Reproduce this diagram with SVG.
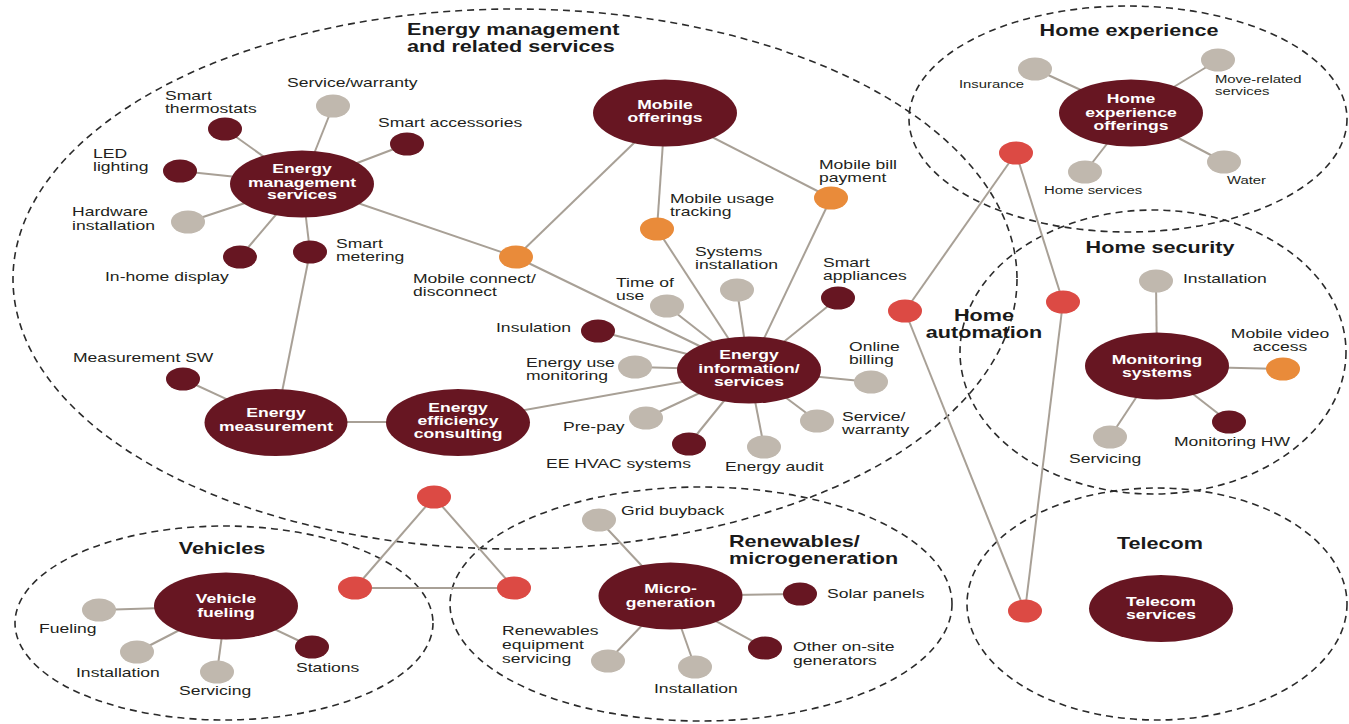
<svg xmlns="http://www.w3.org/2000/svg" width="1349" height="724" viewBox="0 0 1349 724">
<style>
.area{fill:none;stroke:#2b2b2b;stroke-width:1.6;stroke-dasharray:7 5}
.con line{stroke:#a8a096;stroke-width:2}
.main{fill:#671622}
.dk{fill:#671622}
.gy{fill:#c0b8ae}
.or{fill:#e98b3a}
.rd{fill:#dc4a44}
.t{font-family:"Liberation Sans",Arial,sans-serif;font-size:13px;fill:#231f20}
.ts{font-family:"Liberation Sans",Arial,sans-serif;font-size:11px;fill:#231f20}
.w{font-family:"Liberation Sans",Arial,sans-serif;font-size:13px;font-weight:bold;fill:#ffffff;text-anchor:middle}
.h{font-family:"Liberation Sans",Arial,sans-serif;font-size:16px;font-weight:bold;fill:#1a1a1a}
.c{text-anchor:middle}
</style>

<g id="areas">
<ellipse class="area" cx="515" cy="279" rx="502" ry="270"/>
<ellipse class="area" cx="1128" cy="119" rx="219" ry="113"/>
<ellipse class="area" cx="1153" cy="352" rx="193" ry="142"/>
<ellipse class="area" cx="1157" cy="604" rx="190" ry="116"/>
<ellipse class="area" cx="224" cy="623" rx="209" ry="97"/>
<ellipse class="area" cx="701" cy="604" rx="251" ry="117"/>
</g>

<g id="titles">
<text class="h" transform="matrix(1.35,0,0,1,407,35)"><tspan x="0" y="0">Energy management</tspan><tspan x="0" y="17">and related services</tspan></text>
<text class="h c" transform="matrix(1.35,0,0,1,1129,36)">Home experience</text>
<text class="h c" transform="matrix(1.35,0,0,1,1160,253)">Home security</text>
<text class="h c" transform="matrix(1.35,0,0,1,984,321)"><tspan x="0" y="0">Home</tspan><tspan x="0" y="17">automation</tspan></text>
<text class="h c" transform="matrix(1.35,0,0,1,1160,549)">Telecom</text>
<text class="h c" transform="matrix(1.35,0,0,1,222,554)">Vehicles</text>
<text class="h" transform="matrix(1.35,0,0,1,729,547)"><tspan x="0" y="0">Renewables/</tspan><tspan x="0" y="17">microgeneration</tspan></text>
</g>

<g id="connectors" class="con">
<line x1="302" y1="184" x2="225" y2="129"/>
<line x1="302" y1="184" x2="333" y2="106"/>
<line x1="302" y1="184" x2="407" y2="144"/>
<line x1="302" y1="184" x2="180" y2="171"/>
<line x1="302" y1="184" x2="188" y2="222"/>
<line x1="302" y1="184" x2="240" y2="257"/>
<line x1="302" y1="184" x2="310" y2="252"/>
<line x1="310" y1="252" x2="276" y2="422"/>
<line x1="302" y1="184" x2="516" y2="257"/>
<line x1="516" y1="257" x2="749" y2="370"/>
<line x1="665" y1="113" x2="516" y2="257"/>
<line x1="665" y1="113" x2="657" y2="229"/>
<line x1="665" y1="113" x2="831" y2="198"/>
<line x1="657" y1="229" x2="749" y2="370"/>
<line x1="831" y1="198" x2="749" y2="370"/>
<line x1="749" y1="370" x2="737" y2="290"/>
<line x1="749" y1="370" x2="667" y2="306"/>
<line x1="749" y1="370" x2="838" y2="298"/>
<line x1="749" y1="370" x2="598" y2="331"/>
<line x1="749" y1="370" x2="635" y2="367"/>
<line x1="749" y1="370" x2="871" y2="382"/>
<line x1="749" y1="370" x2="646" y2="418"/>
<line x1="749" y1="370" x2="689" y2="444"/>
<line x1="749" y1="370" x2="764" y2="447"/>
<line x1="749" y1="370" x2="817" y2="421"/>
<line x1="749" y1="370" x2="458" y2="422"/>
<line x1="276" y1="422" x2="183" y2="379"/>
<line x1="276" y1="422" x2="458" y2="422"/>
<line x1="434" y1="497" x2="355" y2="588"/>
<line x1="434" y1="497" x2="514" y2="588"/>
<line x1="355" y1="588" x2="514" y2="588"/>
<line x1="1016" y1="153" x2="905" y2="311"/>
<line x1="1016" y1="153" x2="1063" y2="302"/>
<line x1="905" y1="311" x2="1025" y2="611"/>
<line x1="1063" y1="302" x2="1025" y2="611"/>
<line x1="1131" y1="113" x2="1035" y2="69"/>
<line x1="1131" y1="113" x2="1218" y2="60"/>
<line x1="1131" y1="113" x2="1085" y2="172"/>
<line x1="1131" y1="113" x2="1224" y2="162"/>
<line x1="1157" y1="366" x2="1156" y2="281"/>
<line x1="1157" y1="366" x2="1283" y2="369"/>
<line x1="1157" y1="366" x2="1229" y2="422"/>
<line x1="1157" y1="366" x2="1110" y2="437"/>
<line x1="226" y1="606" x2="99" y2="610"/>
<line x1="226" y1="606" x2="137" y2="652"/>
<line x1="226" y1="606" x2="217" y2="672"/>
<line x1="226" y1="606" x2="312" y2="647"/>
<line x1="670" y1="596" x2="599" y2="520"/>
<line x1="670" y1="596" x2="800" y2="594"/>
<line x1="670" y1="596" x2="765" y2="648"/>
<line x1="670" y1="596" x2="695" y2="667"/>
<line x1="670" y1="596" x2="608" y2="661"/>
</g>

<g id="energy-management-services">
<ellipse class="main" cx="302" cy="184" rx="72" ry="33.5"/>
<text class="w" transform="matrix(1.35,0,0,1,302,0)"><tspan x="0" y="173.3">Energy</tspan><tspan x="0" y="186.7">management</tspan><tspan x="0" y="199.5">services</tspan></text>
</g>
<g id="smart-thermostats"><ellipse class="dk" cx="225" cy="129" rx="17" ry="11.5"/><text class="t" transform="matrix(1.35,0,0,1,165,100)"><tspan x="0" y="0">Smart</tspan><tspan x="0" y="13.5">thermostats</tspan></text></g>
<g id="ems-service-warranty"><ellipse class="gy" cx="333" cy="106" rx="17" ry="11.5"/><text class="t" transform="matrix(1.35,0,0,1,287,87)">Service/warranty</text></g>
<g id="smart-accessories"><ellipse class="dk" cx="407" cy="144" rx="17" ry="11.5"/><text class="t" transform="matrix(1.35,0,0,1,378,127)">Smart accessories</text></g>
<g id="led-lighting"><ellipse class="dk" cx="180" cy="171" rx="17" ry="11.5"/><text class="t" transform="matrix(1.35,0,0,1,93,158)"><tspan x="0" y="0">LED</tspan><tspan x="0" y="13.5">lighting</tspan></text></g>
<g id="hardware-installation"><ellipse class="gy" cx="188" cy="222" rx="17" ry="11.5"/><text class="t" transform="matrix(1.35,0,0,1,72,216)"><tspan x="0" y="0">Hardware</tspan><tspan x="0" y="14.5">installation</tspan></text></g>
<g id="in-home-display"><ellipse class="dk" cx="240" cy="257" rx="17" ry="11.5"/><text class="t" transform="matrix(1.35,0,0,1,105,281)">In-home display</text></g>
<g id="smart-metering"><ellipse class="dk" cx="310" cy="252" rx="17" ry="11.5"/><text class="t" transform="matrix(1.35,0,0,1,336,248)"><tspan x="0" y="0">Smart</tspan><tspan x="0" y="13.5">metering</tspan></text></g>

<g id="mobile-offerings">
<ellipse class="main" cx="665" cy="113" rx="72" ry="33.5"/>
<text class="w" transform="matrix(1.35,0,0,1,665,0)"><tspan x="0" y="109">Mobile</tspan><tspan x="0" y="122.3">offerings</tspan></text>
</g>
<g id="mobile-connect"><ellipse class="or" cx="516" cy="257" rx="17" ry="11.5"/><text class="t" transform="matrix(1.35,0,0,1,413,283)"><tspan x="0" y="0">Mobile connect/</tspan><tspan x="0" y="13.5">disconnect</tspan></text></g>
<g id="mobile-usage-tracking"><ellipse class="or" cx="657" cy="229" rx="17" ry="11.5"/><text class="t" transform="matrix(1.35,0,0,1,670,203)"><tspan x="0" y="0">Mobile usage</tspan><tspan x="0" y="13.5">tracking</tspan></text></g>
<g id="mobile-bill-payment"><ellipse class="or" cx="831" cy="198" rx="17" ry="11.5"/><text class="t" transform="matrix(1.35,0,0,1,819,169)"><tspan x="0" y="0">Mobile bill</tspan><tspan x="0" y="13.5">payment</tspan></text></g>

<g id="energy-information-services">
<ellipse class="main" cx="749" cy="370" rx="72" ry="33.5"/>
<text class="w" transform="matrix(1.35,0,0,1,749,0)"><tspan x="0" y="359.3">Energy</tspan><tspan x="0" y="372.7">information/</tspan><tspan x="0" y="386">services</tspan></text>
</g>
<g id="systems-installation"><ellipse class="gy" cx="737" cy="290" rx="17" ry="11.5"/><text class="t" transform="matrix(1.35,0,0,1,695,256)"><tspan x="0" y="0">Systems</tspan><tspan x="0" y="13.5">installation</tspan></text></g>
<g id="time-of-use"><ellipse class="gy" cx="667" cy="306" rx="17" ry="11.5"/><text class="t" transform="matrix(1.35,0,0,1,616,287)"><tspan x="0" y="0">Time of</tspan><tspan x="0" y="13.5">use</tspan></text></g>
<g id="smart-appliances"><ellipse class="dk" cx="838" cy="298" rx="17" ry="11.5"/><text class="t" transform="matrix(1.35,0,0,1,823,267)"><tspan x="0" y="0">Smart</tspan><tspan x="0" y="13.5">appliances</tspan></text></g>
<g id="insulation"><ellipse class="dk" cx="598" cy="331" rx="17" ry="11.5"/><text class="t" transform="matrix(1.35,0,0,1,496,332)">Insulation</text></g>
<g id="energy-use-monitoring"><ellipse class="gy" cx="635" cy="367" rx="17" ry="11.5"/><text class="t" transform="matrix(1.35,0,0,1,526,367)"><tspan x="0" y="0">Energy use</tspan><tspan x="0" y="13.5">monitoring</tspan></text></g>
<g id="online-billing"><ellipse class="gy" cx="871" cy="382" rx="17" ry="11.5"/><text class="t" transform="matrix(1.35,0,0,1,849,351)"><tspan x="0" y="0">Online</tspan><tspan x="0" y="13.5">billing</tspan></text></g>
<g id="pre-pay"><ellipse class="gy" cx="646" cy="418" rx="17" ry="11.5"/><text class="t" transform="matrix(1.35,0,0,1,563,431)">Pre-pay</text></g>
<g id="ee-hvac"><ellipse class="dk" cx="689" cy="444" rx="17" ry="11.5"/><text class="t" transform="matrix(1.35,0,0,1,546,468)">EE HVAC systems</text></g>
<g id="energy-audit"><ellipse class="gy" cx="764" cy="447" rx="17" ry="11.5"/><text class="t" transform="matrix(1.35,0,0,1,725,471)">Energy audit</text></g>
<g id="eis-service-warranty"><ellipse class="gy" cx="817" cy="421" rx="17" ry="11.5"/><text class="t" transform="matrix(1.35,0,0,1,842,421)"><tspan x="0" y="0">Service/</tspan><tspan x="0" y="13.5">warranty</tspan></text></g>

<g id="energy-measurement">
<ellipse class="main" cx="276" cy="422.5" rx="71.5" ry="33.5"/>
<text class="w" transform="matrix(1.35,0,0,1,276,0)"><tspan x="0" y="417.3">Energy</tspan><tspan x="0" y="430.7">measurement</tspan></text>
</g>
<g id="measurement-sw"><ellipse class="dk" cx="183" cy="379" rx="17" ry="11.5"/><text class="t" transform="matrix(1.35,0,0,1,73,362)">Measurement SW</text></g>
<g id="energy-efficiency-consulting">
<ellipse class="main" cx="458" cy="422.5" rx="72" ry="33.5"/>
<text class="w" transform="matrix(1.35,0,0,1,458,0)"><tspan x="0" y="411.7">Energy</tspan><tspan x="0" y="425">efficiency</tspan><tspan x="0" y="438.3">consulting</tspan></text>
</g>

<g id="link-triangle">
<ellipse class="rd" cx="434" cy="497" rx="17" ry="11.5"/>
<ellipse class="rd" cx="355" cy="588" rx="17" ry="11.5"/>
<ellipse class="rd" cx="514" cy="588" rx="17" ry="11.5"/>
</g>
<g id="home-automation-links">
<ellipse class="rd" cx="1016" cy="153" rx="17" ry="11.5"/>
<ellipse class="rd" cx="905" cy="311" rx="17" ry="11.5"/>
<ellipse class="rd" cx="1063" cy="302" rx="17" ry="11.5"/>
<ellipse class="rd" cx="1025" cy="611" rx="17" ry="11.5"/>
</g>

<g id="home-experience-offerings">
<ellipse class="main" cx="1131" cy="113" rx="72" ry="33.5"/>
<text class="w" transform="matrix(1.35,0,0,1,1131,0)"><tspan x="0" y="103.3">Home</tspan><tspan x="0" y="116.7">experience</tspan><tspan x="0" y="130">offerings</tspan></text>
</g>
<g id="insurance"><ellipse class="gy" cx="1035" cy="69" rx="17" ry="11.5"/><text class="ts" transform="matrix(1.35,0,0,1,959,88)">Insurance</text></g>
<g id="move-related"><ellipse class="gy" cx="1218" cy="60" rx="17" ry="11.5"/><text class="ts" transform="matrix(1.35,0,0,1,1215,83)"><tspan x="0" y="0">Move-related</tspan><tspan x="0" y="12">services</tspan></text></g>
<g id="home-services"><ellipse class="gy" cx="1085" cy="172" rx="17" ry="11.5"/><text class="ts" transform="matrix(1.35,0,0,1,1044,194)">Home services</text></g>
<g id="water"><ellipse class="gy" cx="1224" cy="162" rx="17" ry="11.5"/><text class="ts" transform="matrix(1.35,0,0,1,1227,184)">Water</text></g>

<g id="monitoring-systems">
<ellipse class="main" cx="1157" cy="366" rx="72" ry="33.5"/>
<text class="w" transform="matrix(1.35,0,0,1,1157,0)"><tspan x="0" y="364">Monitoring</tspan><tspan x="0" y="377.3">systems</tspan></text>
</g>
<g id="security-installation"><ellipse class="gy" cx="1156" cy="281" rx="17" ry="11.5"/><text class="t" transform="matrix(1.35,0,0,1,1183,283)">Installation</text></g>
<g id="mobile-video-access"><ellipse class="or" cx="1283" cy="369" rx="17" ry="11.5"/><text class="t c" transform="matrix(1.35,0,0,1,1280,338)"><tspan x="0" y="0">Mobile video</tspan><tspan x="0" y="13.5">access</tspan></text></g>
<g id="monitoring-hw"><ellipse class="dk" cx="1229" cy="422" rx="17" ry="11.5"/><text class="t" transform="matrix(1.35,0,0,1,1174,446)">Monitoring HW</text></g>
<g id="security-servicing"><ellipse class="gy" cx="1110" cy="437" rx="17" ry="11.5"/><text class="t" transform="matrix(1.35,0,0,1,1069,463)">Servicing</text></g>

<g id="telecom-services">
<ellipse class="main" cx="1161" cy="608.5" rx="72" ry="33.5"/>
<text class="w" transform="matrix(1.35,0,0,1,1161,0)"><tspan x="0" y="605.7">Telecom</tspan><tspan x="0" y="619">services</tspan></text>
</g>

<g id="vehicle-fueling">
<ellipse class="main" cx="226" cy="606" rx="72" ry="33.5"/>
<text class="w" transform="matrix(1.35,0,0,1,226,0)"><tspan x="0" y="603.3">Vehicle</tspan><tspan x="0" y="616.7">fueling</tspan></text>
</g>
<g id="fueling"><ellipse class="gy" cx="99" cy="610" rx="17" ry="11.5"/><text class="t" transform="matrix(1.35,0,0,1,39,633)">Fueling</text></g>
<g id="vehicle-installation"><ellipse class="gy" cx="137" cy="652" rx="17" ry="11.5"/><text class="t" transform="matrix(1.35,0,0,1,76,677)">Installation</text></g>
<g id="vehicle-servicing"><ellipse class="gy" cx="217" cy="672" rx="17" ry="11.5"/><text class="t" transform="matrix(1.35,0,0,1,179,695)">Servicing</text></g>
<g id="stations"><ellipse class="dk" cx="312" cy="647" rx="17" ry="11.5"/><text class="t" transform="matrix(1.35,0,0,1,296,672)">Stations</text></g>

<g id="micro-generation">
<ellipse class="main" cx="670.5" cy="596" rx="72" ry="33.5"/>
<text class="w" transform="matrix(1.35,0,0,1,670.5,0)"><tspan x="0" y="593.3">Micro-</tspan><tspan x="0" y="606.7">generation</tspan></text>
</g>
<g id="grid-buyback"><ellipse class="gy" cx="599" cy="520" rx="17" ry="11.5"/><text class="t" transform="matrix(1.35,0,0,1,621,515)">Grid buyback</text></g>
<g id="solar-panels"><ellipse class="dk" cx="800" cy="594" rx="17" ry="11.5"/><text class="t" transform="matrix(1.35,0,0,1,827,598)">Solar panels</text></g>
<g id="other-generators"><ellipse class="dk" cx="765" cy="648" rx="17" ry="11.5"/><text class="t" transform="matrix(1.35,0,0,1,793,651)"><tspan x="0" y="0">Other on-site</tspan><tspan x="0" y="14">generators</tspan></text></g>
<g id="micro-installation"><ellipse class="gy" cx="695" cy="667" rx="17" ry="11.5"/><text class="t" transform="matrix(1.35,0,0,1,654,693)">Installation</text></g>
<g id="renewables-servicing"><ellipse class="gy" cx="608" cy="661" rx="17" ry="11.5"/><text class="t" transform="matrix(1.35,0,0,1,502,635)"><tspan x="0" y="0">Renewables</tspan><tspan x="0" y="14">equipment</tspan><tspan x="0" y="28">servicing</tspan></text></g>
</svg>
